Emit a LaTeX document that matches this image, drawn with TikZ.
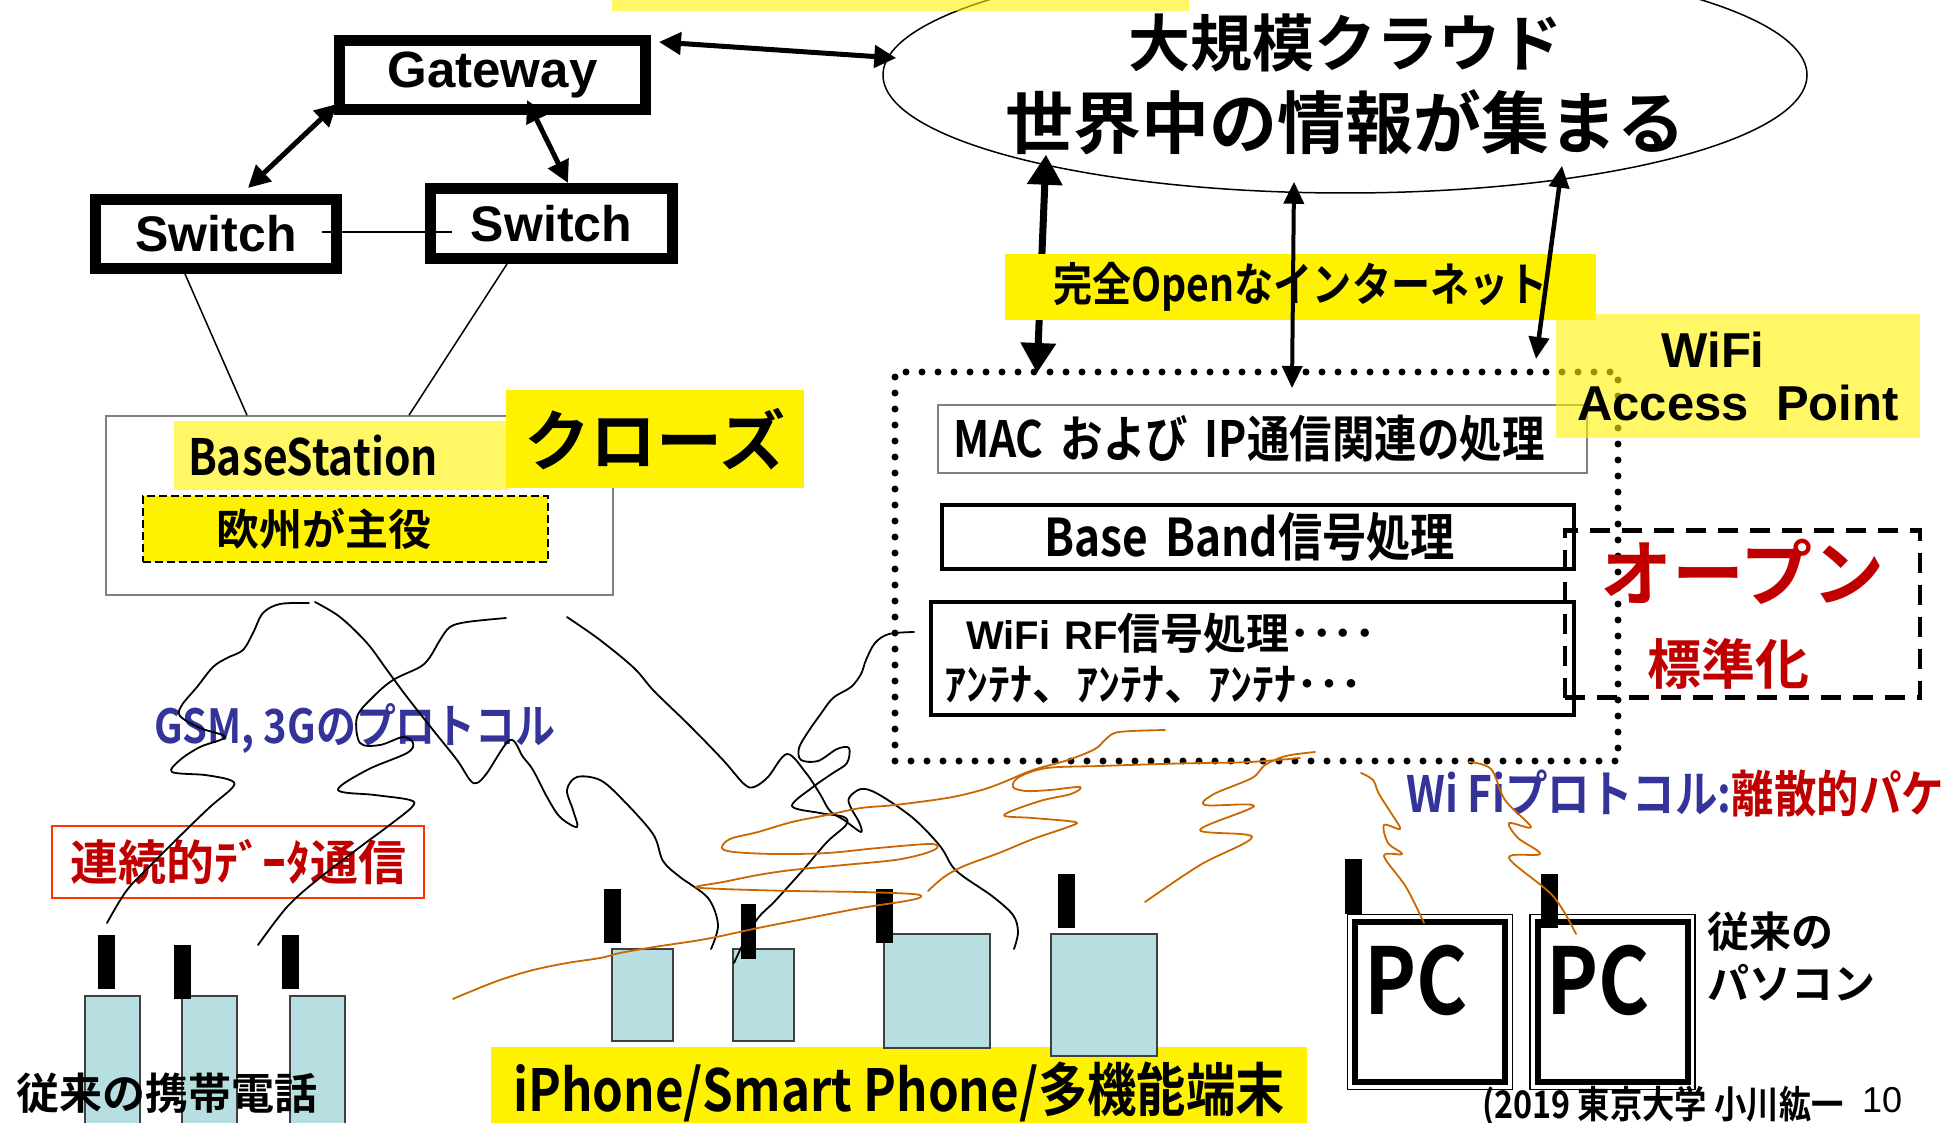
\documentclass[tikz,border=0pt]{standalone}
\usepackage{fontspec}
\usetikzlibrary{arrows.meta,calc,shapes.geometric}

\newfontfamily\jp{Noto Sans CJK JP Bold}
\newfontfamily\jpc{Noto Sans CJK JP Bold}[FakeStretch=0.85]
\newfontfamily\ar{Liberation Sans}
\newcommand\fsz[1]{\fontsize{#1}{#1}\selectfont}

\definecolor{phoneblue}{RGB}{183,222,224}
\definecolor{openred}{RGB}{192,0,0}
\definecolor{protblue}{RGB}{51,51,153}
\definecolor{waveorange}{RGB}{204,102,0}
\definecolor{boxred}{RGB}{255,51,0}

\begin{document}
\begin{tikzpicture}[x=1pt, y=-1pt,
    netbox/.style={draw, line width=11pt, inner sep=0pt, font=\ar\bfseries\fsz{51}},
    netarrow/.style={line width=5pt, arrows={Triangle[length=22pt,width=22pt]-Triangle[length=22pt,width=22pt]}},
    webarrow/.style={line width=4pt, arrows={Triangle[length=22pt,width=20pt]-Triangle[length=22pt,width=20pt]}},
    lightbar/.style={fill=yellow, fill opacity=0.6, text opacity=1, inner sep=0pt},
    yellowbar/.style={fill=yellow, inner sep=0pt},
    layer/.style={draw, line width=4.5pt, inner sep=0pt},
    phone/.style={draw=black!75, line width=1.5pt, fill=phoneblue, inner sep=0pt},
    antenna/.style={fill=black, inner sep=0pt, minimum width=17pt, minimum height=54pt},
    pcbox/.style={draw, line width=6pt, inner sep=0pt, minimum width=150pt, minimum height=160pt},
    pctext/.style={anchor=base west, inner sep=0pt, font=\jpc\fsz{92}},
    wave/.style={line width=1.8pt, line cap=round, line join=round},
    owave/.style={wave, draw=waveorange}]

    \useasboundingbox (0,0) rectangle (1941,1123);
    \clip (0,0) rectangle (1941,1123);

    % operator network
    \node[netbox, minimum width=306pt, minimum height=69pt] (gw) at (492.5,75) {Gateway};
    \node[netbox, font=\ar\bfseries\fsz{50}, minimum width=241pt, minimum height=69pt] (sw1) at (216,234) {Switch};
    \node[netbox, font=\ar\bfseries\fsz{50}, minimum width=242pt, minimum height=70pt] (sw2) at (551.5,223.5) {Switch};

    \node[draw=black!50, line width=1.5pt, minimum width=507pt, minimum height=179pt, inner sep=0pt] (bs) at (359.5,505.5) {};
    \node[lightbar, minimum height=69pt, text width=306pt, inner xsep=14pt, align=left, font=\jpc\fsz{50}] (bslbl) at (341,455.5) {BaseStation};
    \node[yellowbar, minimum width=298pt, minimum height=98pt, font=\jp\fsz{66}] (close) at (655,439) {クローズ};
    \node[yellowbar, draw, dash pattern=on 8pt off 4pt, line width=1.5pt, minimum height=66pt, text width=258pt, inner xsep=73.5pt, align=left, font=\jp\fsz{43}] (eu) at (345.5,529) {欧州が主役};

    \draw[line width=1.5pt] ($(sw1.east)+(-20,-2)$) -- ($(sw2.west)+(27,8.5)$);
    \draw[line width=1.5pt] ($(sw1.south)+(-31,0)$) -- ($(bs.north)+(-112.5,0)$);
    \draw[line width=1.5pt] ($(sw2.south)+(-44.5,0)$) -- ($(bs.north)+(49.5,0)$);
    \draw[netarrow] ($(gw.south west)+(3,-11)$) -- ($(sw1.north)+(32,-6)$);
    \draw[netarrow] ($(gw.south)+(34.5,-15)$) -- ($(sw2.north)+(16.5,0)$);

    % cloud
    \node[draw, ellipse, line width=1.5pt, inner sep=0pt, minimum width=924pt, minimum height=236pt] (cloud) at (1345,75) {};
    \node[align=center, inner sep=0pt, font=\jp\fontsize{66}{82}\selectfont] (cloudtxt) at (1345,84)
        {{\fsz{62}大規模クラウド}\\{\fsz{68}世界中の情報が集まる}};
    \fill[yellow, fill opacity=0.6] (612,0) rectangle (1189,11);
    \draw[netarrow] ($(gw.north east)+(8,7)$) -- ($(cloud.west)+(14,-17)$);

    % access point
    \node[draw, line width=7pt, line cap=round, dash pattern=on 0pt off 16pt, outer sep=0pt, inner sep=0pt,
          minimum width=723pt, minimum height=389pt] (ap) at (1256.5,566.5) {};
    \draw[line width=7pt, arrows={Triangle[length=30pt,width=34pt]-Triangle[length=30pt,width=34pt]}]
        ($(cloud.south)+(-299,-39)$) -- ($(ap.north)+(-219.5,1)$);
    \node[yellowbar, minimum width=591pt, minimum height=66pt, font=\jpc\fsz{46}] (inet) at (1300.5,287) {完全Openなインターネット};
    \draw[webarrow] ($(cloud.south)+(-51,-12)$) -- ($(ap.north)+(35.5,16)$);
    \draw[webarrow, line width=4.5pt] ($(cloud.south)+(217,-28)$) -- ($(ap.north)+(279.5,-13)$);

    \node[draw=black!50, line width=1.5pt, inner sep=0pt, minimum width=649pt, minimum height=68pt, text width=619pt,
          inner xsep=15pt, align=left, font=\jpc\fsz{50}] (mac) at (1262.5,439) {\mbox{MAC および IP通信関連の処理}};
    \node[layer, minimum width=632pt, minimum height=64pt, text width=428pt, inner xsep=102pt, align=left,
          font=\jpc\fsz{52}] (bb) at (1258,537) {Base Band信号処理};
    \node[layer, minimum width=643pt, minimum height=113pt, text width=617pt, inner xsep=13pt, align=left,
          font=\jp\fontsize{43}{51}\selectfont] (rf) at (1252.5,658.5)
        {\hspace*{22pt}{\ar\bfseries\fsz{40}WiFi RF}信号処理････\\{\fsz{44}ｱﾝﾃﾅ、ｱﾝﾃﾅ、ｱﾝﾃﾅ･･･}};

    \node[draw, line width=4.5pt, dash pattern=on 20pt off 12pt, inner sep=0pt, minimum width=355pt, minimum height=167pt,
          align=center, text=openred, font=\jp\fontsize{72}{84}\selectfont] (open) at (1742.5,614)
        {オープン\\{\fsz{54}標準化\hspace*{28pt}}};
    \node[lightbar, minimum width=364pt, minimum height=124pt, align=center, font=\ar\bfseries\fontsize{49}{53}\selectfont]
        (aplbl) at (1738,376) {WiFi\hspace*{50pt}\\Access~~Point};

    % labels
    \node[anchor=west, inner sep=0pt, text=protblue, font=\jpc\fsz{47}] (gsm) at (154,728) {GSM, 3Gのプロトコル};
    \node[anchor=west, inner sep=0pt, text=protblue, font=\jpc\fsz{50}] (wifiproto) at (1406,793)
        {Wi Fiプロトコル:\textcolor{openred}{離散的パケ}};
    \node[draw=boxred, line width=2pt, inner sep=0pt, minimum width=372pt, minimum height=72pt, text=openred,
          font=\jp\fsz{48}] (cont) at (238,862) {連続的ﾃﾞｰﾀ通信};

    % classic handsets
    \node[phone, minimum width=55pt, minimum height=134pt] (ph1) at (112.5,1063) {};
    \node[phone, minimum width=55pt, minimum height=134pt] (ph2) at (209.5,1063) {};
    \node[phone, minimum width=55pt, minimum height=134pt] (ph3) at (317.5,1063) {};
    \node[antenna] (pa1) at (106.5,962) {};
    \node[antenna] (pa2) at (182.5,972) {};
    \node[antenna] (pa3) at (290.5,962) {};
    \node[anchor=west, inner sep=0pt, font=\jp\fsz{43}] (oldphone) at (16,1093) {従来の携帯電話};

    % smartphones
    \node[yellowbar, minimum width=816pt, minimum height=90pt, font=\jpc\fsz{58}] (smart) at (899,1092) {iPhone/Smart Phone/多機能端末};
    \node[phone, minimum width=61pt, minimum height=92pt] (sp1) at (642.5,995) {};
    \node[phone, minimum width=61pt, minimum height=92pt] (sp2) at (763.5,995) {};
    \node[phone, minimum width=106pt, minimum height=114pt] (sp3) at (937,991) {};
    \node[phone, minimum width=106pt, minimum height=122pt] (sp4) at (1104,995) {};
    \node[antenna] (spa1) at (612.5,916) {};
    \node[antenna, minimum width=15pt, minimum height=55pt] (spa2) at (748.5,931.5) {};
    \node[antenna] (spa3) at (884.5,916) {};
    \node[antenna] (spa4) at (1066.5,901) {};

    % PCs
    \node[pcbox] (pc1) at (1430,1002) {};
    \node[pcbox] (pc2) at (1612.5,1002) {};
    \draw[line width=1.5pt] ($(pc1.north west)+(-4.5,-4.5)$) rectangle ($(pc1.south east)+(4.5,4.5)$);
    \draw[line width=1.5pt] ($(pc2.north west)+(-4.5,-4.5)$) rectangle ($(pc2.south east)+(4.5,4.5)$);
    \node[pctext] (pc1txt) at ($(pc1.north west)+(12,95)$) {PC};
    \node[pctext] (pc2txt) at ($(pc2.north west)+(12,95)$) {PC};
    \node[antenna, minimum height=55pt] (pca1) at (1353.5,886.5) {};
    \node[antenna] (pca2) at (1549.5,901) {};
    \node[anchor=west, align=left, inner sep=0pt, font=\jp\fontsize{42}{52}\selectfont] (oldpc) at (1707,957) {従来の\\パソコン};

    \node[anchor=west, inner sep=0pt, font=\jpc\fsz{38}] (credit) at (1482,1106) {(2019 東京大学 小川紘一};
    \node[anchor=west, inner sep=0pt, font=\ar\fsz{36}] (pageno) at (1862,1100) {10};

    % radio waves, GSM/3G
    \draw[wave] plot[smooth, tension=0.55] coordinates {(309,603) (280,604) (263,613) (253,633) (243,650) (227,658)
        (213,667) (197,687) (182,705) (180,716) (200,728) (225,737) (200,747) (180,760) (172,772) (205,775) (230,780)
        (233,787) (210,807) (183,833) (153,863) (127,890) (107,923)};
    \draw[wave] plot[smooth, tension=0.55] coordinates {(506,618) (467,622) (450,627) (440,640) (430,657) (420,667)
        (393,680) (373,697) (357,717) (360,743) (380,745) (403,737) (413,743) (407,753) (367,770) (338,790) (375,795)
        (410,800) (412,807) (387,827) (360,847) (317,880) (287,907) (258,945)};
    \draw[wave] plot[smooth, tension=0.55] coordinates {(315,602) (340,617) (367,643) (387,670) (407,697) (433,730)
        (457,760) (470,780) (477,783) (487,773) (510,740) (523,757) (533,770) (547,797) (560,817) (577,827) (573,810)
        (567,790) (577,777) (600,780) (622,799) (653,834) (663,861) (680,877) (708,898) (718,925) (711,949)};
    \draw[wave] plot[smooth, tension=0.55] coordinates {(567,617) (600,640) (634,668) (654,691) (689,725) (723,760)
        (744,784) (754,787) (768,777) (787,754) (806,773) (820,794) (830,811) (844,820) (861,832) (859,822) (851,808)
        (849,798) (861,789) (878,794) (913,818) (940,846) (952,866) (964,877) (992,896) (1013,915) (1018,932) (1014,949)};
    \draw[wave] plot[smooth, tension=0.55] coordinates {(914,632) (889,634) (875,643) (866,660) (861,674) (851,687)
        (833,698) (820,715) (808,732) (799,748) (801,760) (818,761) (837,749) (849,748) (847,763) (833,773) (813,787)
        (792,806) (820,813) (844,817) (846,825) (827,842) (803,870) (775,901) (758,918) (744,942) (734,963)};

    % radio waves, WiFi
    \draw[owave] plot[smooth, tension=0.55] coordinates {(1165,730) (1119,732) (1106,739) (1095,749) (1068,760)
        (1033,770) (999,784) (978,791) (947,798) (895,805) (861,808) (827,815) (792,822) (758,832) (730,839) (722,848)
        (734,852) (775,854) (827,853) (878,848) (930,844) (937,848) (923,854) (895,860) (844,865) (792,870) (758,875)
        (723,882) (696,887) (723,889) (792,891) (861,892) (913,894) (921,897) (906,901) (861,908) (809,918) (758,928)
        (706,939) (654,947) (620,953) (600,958) (567,963) (533,970) (500,980) (467,993) (453,999)};
    \draw[owave] plot[smooth, tension=0.55] coordinates {(1300,758) (1250,762) (1200,763) (1160,764) (1100,766)
        (1047,768) (1019,777) (1013,787) (1026,791) (1050,790) (1080,787) (1071,794) (1040,801) (1004,815) (1033,818)
        (1075,822) (1068,827) (1033,839) (999,853) (964,866) (944,877) (928,891)};
    \draw[owave] plot[smooth, tension=0.55] coordinates {(1315,752) (1286,756) (1265,765) (1252,778) (1214,794)
        (1205,805) (1254,806) (1200,830) (1252,837) (1200,865) (1145,902)};
    \draw[owave] plot[smooth, tension=0.55] coordinates {(1361,773) (1373,780) (1379,794) (1393,816) (1400,829)
        (1384,825) (1388,843) (1402,854) (1384,856) (1406,887) (1424,923)};
    \draw[owave] plot[smooth, tension=0.55] coordinates {(1469,762) (1491,769) (1505,800) (1531,827) (1509,823)
        (1518,838) (1540,854) (1509,858) (1553,896) (1576,934)};
\end{tikzpicture}
\end{document}
